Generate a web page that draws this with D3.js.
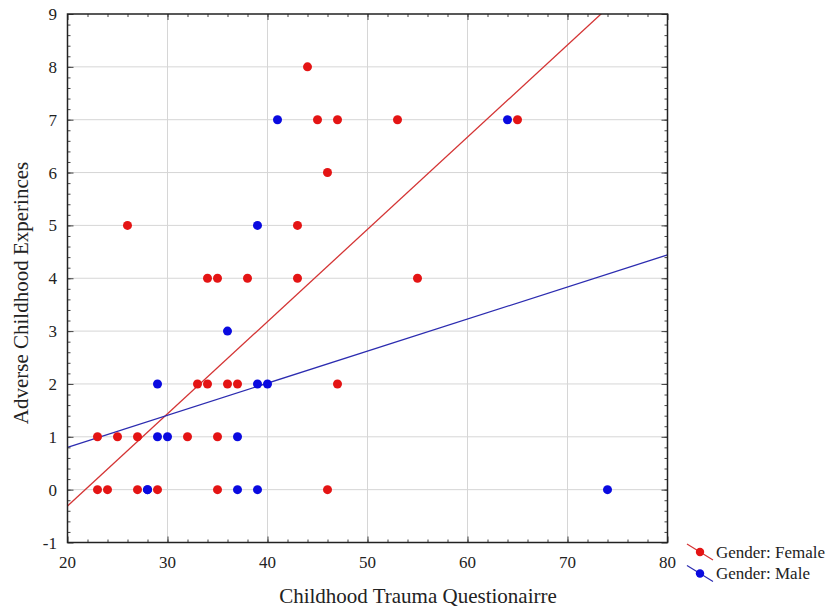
<!DOCTYPE html>
<html>
<head>
<script src="https://d3js.org/d3.v7.min.js"></script>
<style>
body { margin: 0; background: #fff; }
text { font-family: "Liberation Serif", "DejaVu Serif", serif; fill: #222; }
</style>
</head>
<body>
<svg width="829" height="610"></svg>
<script>

// female points (CTQ score, ACE count)
const femaleX = [44, 45, 47, 53, 65, 46, 26, 43, 34, 35, 38, 43, 55, 33, 34, 36, 37, 47, 23, 25, 27, 32, 35, 23, 24, 27, 29, 35, 46];
const femaleY = [8, 7, 7, 7, 7, 6, 5, 5, 4, 4, 4, 4, 4, 2, 2, 2, 2, 2, 1, 1, 1, 1, 1, 0, 0, 0, 0, 0, 0];
// male points
const maleX = [41, 64, 39, 36, 29, 39, 40, 29, 30, 37, 28, 28, 37, 39, 74];
const maleY = [7, 7, 5, 3, 2, 2, 2, 1, 1, 1, 0, 0, 0, 0, 0];
// fitted lines: [intercept at x=0, slope]
const femaleFit = [-3.80, 0.1745];
const maleFit = [-0.414, 0.0607];

const xTicks = [20, 30, 40, 50, 60, 70, 80];
const yTicks = [-1, 0, 1, 2, 3, 4, 5, 6, 7, 8, 9];
const seriesNames = ["Gender: Female", "Gender: Male"];

const svg = d3.select("svg");
const pLeft = 67.5, pRight = 667.5, pTop = 14, pBottom = 542.5;

const x = d3.scaleLinear().domain([20, 80]).range([pLeft, pRight]);
const y = d3.scaleLinear().domain([-1, 9]).range([pBottom, pTop]);

const series = [
  { name: seriesNames[0], xs: femaleX, ys: femaleY, fit: femaleFit, dot: "#e41414", line: "#d43434" },
  { name: seriesNames[1], xs: maleX, ys: maleY, fit: maleFit, dot: "#0a0ae0", line: "#2c2cb0" }
];

// grid
svg.append("g").selectAll("line").data(xTicks.slice(1, -1)).enter().append("line")
  .attr("x1", d => x(d)).attr("x2", d => x(d)).attr("y1", pTop).attr("y2", pBottom)
  .attr("stroke", "#d6d6d6").attr("stroke-width", 1);
svg.append("g").selectAll("line").data(yTicks.slice(1, -1)).enter().append("line")
  .attr("x1", pLeft).attr("x2", pRight).attr("y1", d => y(d)).attr("y2", d => y(d))
  .attr("stroke", "#d6d6d6").attr("stroke-width", 1);

// clip for the fit lines
svg.append("clipPath").attr("id", "plot").append("rect")
  .attr("x", pLeft).attr("y", pTop).attr("width", pRight - pLeft).attr("height", pBottom - pTop);

const plot = svg.append("g").attr("clip-path", "url(#plot)");

series.forEach(function(s) {
  plot.append("line")
    .attr("x1", x(20)).attr("y1", y(s.fit[0] + s.fit[1] * 20))
    .attr("x2", x(80)).attr("y2", y(s.fit[0] + s.fit[1] * 80))
    .attr("stroke", s.line).attr("stroke-width", 1.3);
});

series.forEach(function(s) {
  svg.append("g").selectAll("circle").data(d3.range(s.xs.length)).enter().append("circle")
    .attr("cx", i => x(s.xs[i])).attr("cy", i => y(s.ys[i]))
    .attr("r", 4.5).attr("fill", s.dot);
});

// axes with inward ticks
const xMinor = d3.range(22, 80, 2);
svg.append("g").attr("transform", "translate(0," + pBottom + ")")
  .call(d3.axisBottom(x).tickValues(xMinor).tickSize(-3).tickFormat(""));
svg.append("g").attr("transform", "translate(0," + pBottom + ")")
  .call(d3.axisBottom(x).tickValues(xTicks).tickSize(-6).tickFormat(""));
svg.append("g").attr("transform", "translate(0," + pTop + ")")
  .call(d3.axisTop(x).tickValues(xMinor).tickSize(-3).tickFormat(""));
svg.append("g").attr("transform", "translate(0," + pTop + ")")
  .call(d3.axisTop(x).tickValues(xTicks).tickSize(-6).tickFormat(""));

const yMinor = d3.range(-0.8, 9, 0.2).map(v => Math.round(v * 10) / 10);
svg.append("g").attr("transform", "translate(" + pLeft + ",0)")
  .call(d3.axisLeft(y).tickValues(yMinor).tickSize(-3).tickFormat(""));
svg.append("g").attr("transform", "translate(" + pLeft + ",0)")
  .call(d3.axisLeft(y).tickValues(yTicks).tickSize(-6).tickFormat(""));
svg.append("g").attr("transform", "translate(" + pRight + ",0)")
  .call(d3.axisRight(y).tickValues(yMinor).tickSize(-3).tickFormat(""));
svg.append("g").attr("transform", "translate(" + pRight + ",0)")
  .call(d3.axisRight(y).tickValues(yTicks).tickSize(-6).tickFormat(""));

svg.selectAll(".domain").remove();
svg.selectAll(".tick line").attr("stroke", "#444");

svg.append("rect").attr("x", pLeft).attr("y", pTop)
  .attr("width", pRight - pLeft).attr("height", pBottom - pTop)
  .attr("fill", "none").attr("stroke", "#222").attr("stroke-width", 1.5);

// tick labels
svg.append("g").selectAll("text").data(xTicks).enter().append("text")
  .attr("x", d => x(d)).attr("y", 568)
  .attr("text-anchor", "middle").style("font-size", "17px")
  .text(d => d);
svg.append("g").selectAll("text").data(yTicks).enter().append("text")
  .attr("x", 57).attr("y", d => y(d) + 6)
  .attr("text-anchor", "end").style("font-size", "17px")
  .text(d => d);

// axis titles
svg.append("text").attr("x", 418).attr("y", 603)
  .attr("text-anchor", "middle").style("font-size", "21px")
  .text("Childhood Trauma Questionairre");
svg.append("text").attr("transform", "translate(28,293) rotate(-90)")
  .attr("text-anchor", "middle").style("font-size", "21px")
  .text("Adverse Childhood Experinces");

// legend
const legend = svg.append("g").selectAll("g").data(series).enter().append("g")
  .attr("transform", (d, i) => "translate(700," + (552 + i * 21.5) + ")");
legend.append("line")
  .attr("x1", -13).attr("y1", -8).attr("x2", 13).attr("y2", 8)
  .attr("stroke", d => d.line).attr("stroke-width", 1.3);
legend.append("circle").attr("r", 4.2).attr("fill", d => d.dot);
legend.append("text").attr("x", 16).attr("y", 5.5)
  .style("font-size", "17px").text(d => d.name);

</script>
</body>
</html>
